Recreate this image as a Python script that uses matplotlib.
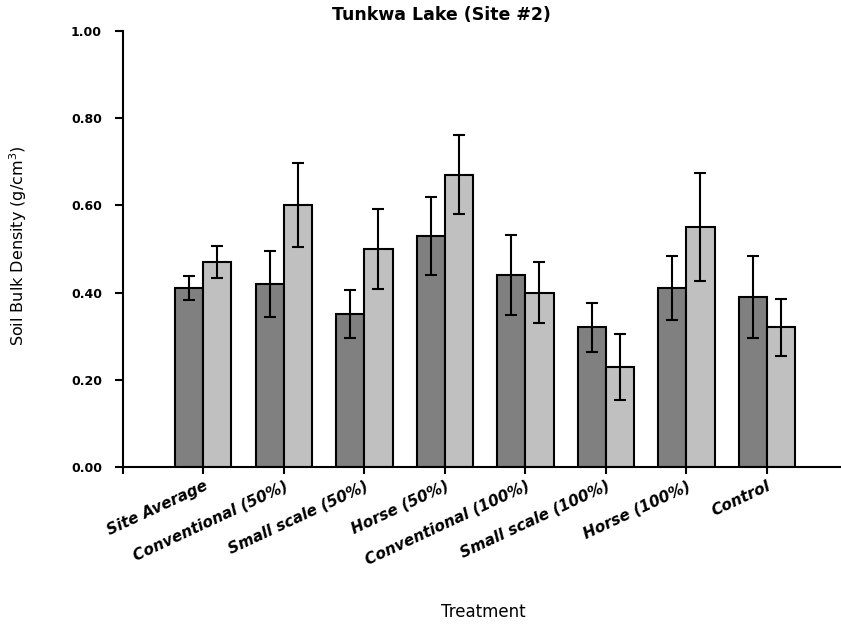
import numpy as np
import matplotlib
matplotlib.use("Agg")
import matplotlib.pyplot as plt

# ── Data ──────────────────────────────────────────────────────────────────────
treatments = ["Site Average", "Conventional (50%)", "Small scale (50%)", "Horse (50%)",
              "Conventional (100%)", "Small scale (100%)", "Horse (100%)", "Control"]
dark_vals  = [0.41, 0.42, 0.35, 0.53, 0.44, 0.32, 0.41, 0.39]
dark_err   = [0.027, 0.076, 0.055, 0.090, 0.092, 0.057, 0.073, 0.094]
light_vals = [0.47, 0.60, 0.50, 0.67, 0.40, 0.23, 0.55, 0.32]
light_err  = [0.036, 0.096, 0.091, 0.091, 0.069, 0.076, 0.123, 0.066]
yticks     = [0.0, 0.2, 0.4, 0.6, 0.8, 1.0]
# ─────────────────────────────────────────────────────────────────────────────

fig = plt.figure(figsize=(8.41, 6.27), dpi=100)
ax = fig.add_axes([0.146, 0.255, 0.854, 0.696])

x = np.arange(1, len(treatments) + 1)
w = 0.35
ekw = dict(ecolor="black", elinewidth=1.5, capsize=4, capthick=1.5)

ax.bar(x - w / 2, dark_vals, w, yerr=dark_err, color="#808080",
       edgecolor="black", linewidth=1.5, error_kw=ekw, zorder=2)
ax.bar(x + w / 2, light_vals, w, yerr=light_err, color="#c0c0c0",
       edgecolor="black", linewidth=1.5, error_kw=ekw, zorder=2)

ax.set_xlim(0, 8.92)
ax.set_ylim(0, 1.0)
ax.spines["top"].set_visible(False)
ax.spines["right"].set_visible(False)
for s in ("left", "bottom"):
    ax.spines[s].set_linewidth(1.5)

ax.set_yticks(yticks)
ax.set_yticklabels([f"{v:.2f}" for v in yticks], fontsize=9, fontweight="bold")
ax.tick_params(axis="y", direction="out", length=6, width=1.5, pad=9)

ax.set_xticks(np.arange(0, len(treatments) + 1))
ax.set_xticklabels([""] + treatments, rotation=25, ha="right", va="top",
                   rotation_mode="anchor", fontsize=11, fontweight="bold",
                   fontstyle="italic")
ax.tick_params(axis="x", direction="out", length=5, width=1.5, pad=3)

fig.text(441 / 841, 1 - 15 / 627, "Tunkwa Lake (Site #2)", ha="center", va="center",
         fontsize=12.5, fontweight="bold")
fig.text(18 / 841, 1 - 246 / 627, "Soil Bulk Density (g/cm$^3$)", rotation=90,
         ha="center", va="center", fontsize=11.5)
fig.text(483 / 841, 1 - 612 / 627, "Treatment", ha="center", va="center", fontsize=12)

fig.savefig("out.png", dpi=100)
